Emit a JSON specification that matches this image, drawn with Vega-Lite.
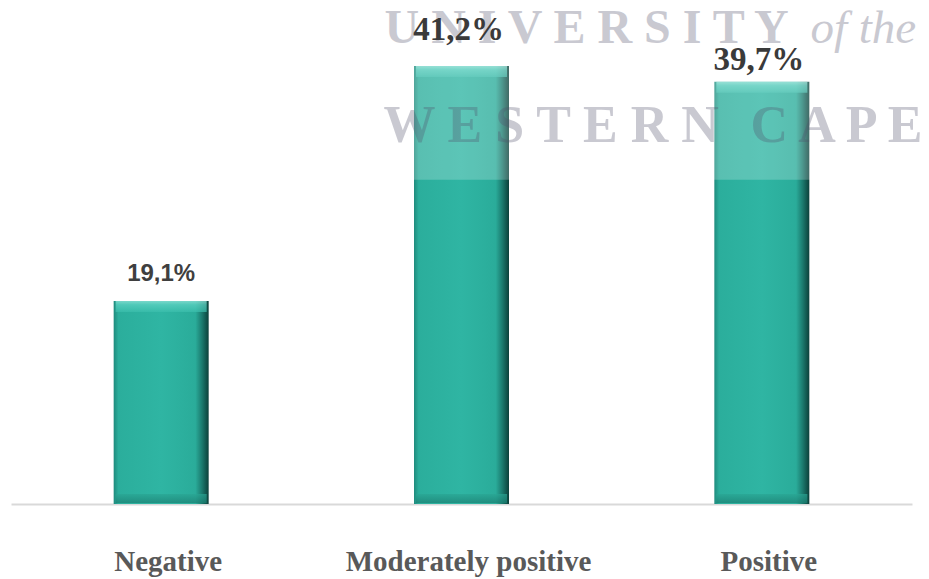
{
  "$schema": "https://vega.github.io/schema/vega-lite/v6.json",
  "autosize": "none",
  "width": 901,
  "height": 504,
  "padding": {"left": 11, "top": 0, "right": 17, "bottom": 75},
  "background": "white",
  "config": {"view": {"stroke": null}},
  "data": {
    "values": [
      {"category": "Negative", "share": 19.1, "label": "19,1%"},
      {"category": "Moderately positive", "share": 41.2, "label": "41,2%"},
      {"category": "Positive", "share": 39.7, "label": "39,7%"}
    ]
  },
  "encoding": {
    "x": {
      "field": "category",
      "type": "nominal",
      "sort": null,
      "scale": {"paddingInner": 0, "paddingOuter": 0},
      "axis": {
        "title": null,
        "ticks": false,
        "tickSize": 0,
        "grid": false,
        "labelAngle": 0,
        "labelLimit": 0,
        "labelFont": "Liberation Serif",
        "labelFontWeight": "bold",
        "labelFontSize": 29,
        "labelColor": "#595959",
        "labelBaseline": "alphabetic",
        "labelPadding": 66,
        "labelOffset": 7,
        "domainColor": "#d9d9d9",
        "domainWidth": 2
      }
    }
  },
  "layer": [
    {
      "mark": {
        "type": "bar",
        "width": 95,
        "color": {
          "gradient": "linear",
          "x1": 0, "y1": 0, "x2": 1, "y2": 0,
          "stops": [
            {"offset": 0, "color": "#1f8b7d"},
            {"offset": 0.05, "color": "#2bae9c"},
            {"offset": 0.5, "color": "#2fb5a3"},
            {"offset": 0.86, "color": "#2aac9a"},
            {"offset": 0.93, "color": "#1b7a6e"},
            {"offset": 1, "color": "#0c403a"}
          ]
        }
      },
      "encoding": {
        "y": {
          "field": "share",
          "type": "quantitative",
          "scale": {"domain": [0, 47.4], "nice": false},
          "axis": null
        }
      }
    },
    {
      "mark": {
        "type": "tick",
        "size": 91,
        "thickness": 11,
        "yOffset": 5.5,
        "color": {
          "gradient": "linear",
          "x1": 0, "y1": 0, "x2": 0, "y2": 1,
          "stops": [
            {"offset": 0, "color": "#9be8dd"},
            {"offset": 0.35, "color": "#5fd4c4"},
            {"offset": 1, "color": "#3cbfad"}
          ]
        }
      },
      "encoding": {"y": {"field": "share", "type": "quantitative"}}
    },
    {
      "mark": {
        "type": "tick",
        "size": 91,
        "thickness": 9,
        "yOffset": -5.5,
        "color": {
          "gradient": "linear",
          "x1": 0, "y1": 0, "x2": 0, "y2": 1,
          "stops": [
            {"offset": 0, "color": "#29a593"},
            {"offset": 1, "color": "#1c8073"}
          ]
        }
      },
      "encoding": {"y": {"datum": 0, "type": "quantitative"}}
    },
    {
      "data": {"values": [{"category": "Moderately positive"}, {"category": "Positive"}]},
      "mark": {"type": "rect", "color": "white", "opacity": 0.22},
      "encoding": {
        "x": {"field": "category", "type": "nominal", "sort": null},
        "y": {"datum": 30.5, "type": "quantitative"},
        "y2": {"datum": 47.4}
      }
    },
    {
      "data": {"values": [{"text": "U N I V E R S I T Y"}]},
      "mark": {
        "type": "text",
        "align": "left",
        "baseline": "alphabetic",
        "dx": -77,
        "font": "Liberation Serif",
        "fontWeight": "bold",
        "fontSize": 48,
        "color": "#50506a",
        "opacity": 0.3
      },
      "encoding": {
        "x": {"datum": "Moderately positive"},
        "y": {"datum": 43.4, "type": "quantitative"},
        "text": {"field": "text"}
      }
    },
    {
      "data": {"values": [{"text": "of the"}]},
      "mark": {
        "type": "text",
        "align": "left",
        "baseline": "alphabetic",
        "dx": 349,
        "font": "Liberation Serif",
        "fontStyle": "italic",
        "fontSize": 47,
        "color": "#50506a",
        "opacity": 0.3
      },
      "encoding": {
        "x": {"datum": "Moderately positive"},
        "y": {"datum": 43.4, "type": "quantitative"},
        "text": {"field": "text"}
      }
    },
    {
      "data": {"values": [{"text": "W E S T E R N"}]},
      "mark": {
        "type": "text",
        "align": "left",
        "baseline": "alphabetic",
        "dx": -78,
        "font": "Liberation Serif",
        "fontWeight": "bold",
        "fontSize": 52,
        "color": "#50506a",
        "opacity": 0.3
      },
      "encoding": {
        "x": {"datum": "Moderately positive"},
        "y": {"datum": 34.05, "type": "quantitative"},
        "text": {"field": "text"}
      }
    },
    {
      "data": {"values": [{"text": "C A P E"}]},
      "mark": {
        "type": "text",
        "align": "left",
        "baseline": "alphabetic",
        "dx": 289,
        "font": "Liberation Serif",
        "fontWeight": "bold",
        "fontSize": 52,
        "color": "#50506a",
        "opacity": 0.3
      },
      "encoding": {
        "x": {"datum": "Moderately positive"},
        "y": {"datum": 34.05, "type": "quantitative"},
        "text": {"field": "text"}
      }
    },
    {
      "transform": [{"filter": "datum.category === 'Negative'"}],
      "mark": {
        "type": "text",
        "baseline": "alphabetic",
        "dy": -20,
        "font": "Liberation Sans",
        "fontWeight": "bold",
        "fontSize": 24,
        "color": "#3f3f3f"
      },
      "encoding": {
        "y": {"field": "share", "type": "quantitative"},
        "text": {"field": "label"}
      }
    },
    {
      "transform": [{"filter": "datum.category === 'Moderately positive'"}],
      "mark": {
        "type": "text",
        "baseline": "alphabetic",
        "dy": -26,
        "dx": -3,
        "font": "Liberation Serif",
        "fontWeight": "bold",
        "fontSize": 33,
        "color": "#3a3a3a"
      },
      "encoding": {
        "y": {"field": "share", "type": "quantitative"},
        "text": {"field": "label"}
      }
    },
    {
      "transform": [{"filter": "datum.category === 'Positive'"}],
      "mark": {
        "type": "text",
        "baseline": "alphabetic",
        "dy": -12,
        "dx": -3,
        "font": "Liberation Serif",
        "fontWeight": "bold",
        "fontSize": 33,
        "color": "#3a3a3a"
      },
      "encoding": {
        "y": {"field": "share", "type": "quantitative"},
        "text": {"field": "label"}
      }
    }
  ]
}
